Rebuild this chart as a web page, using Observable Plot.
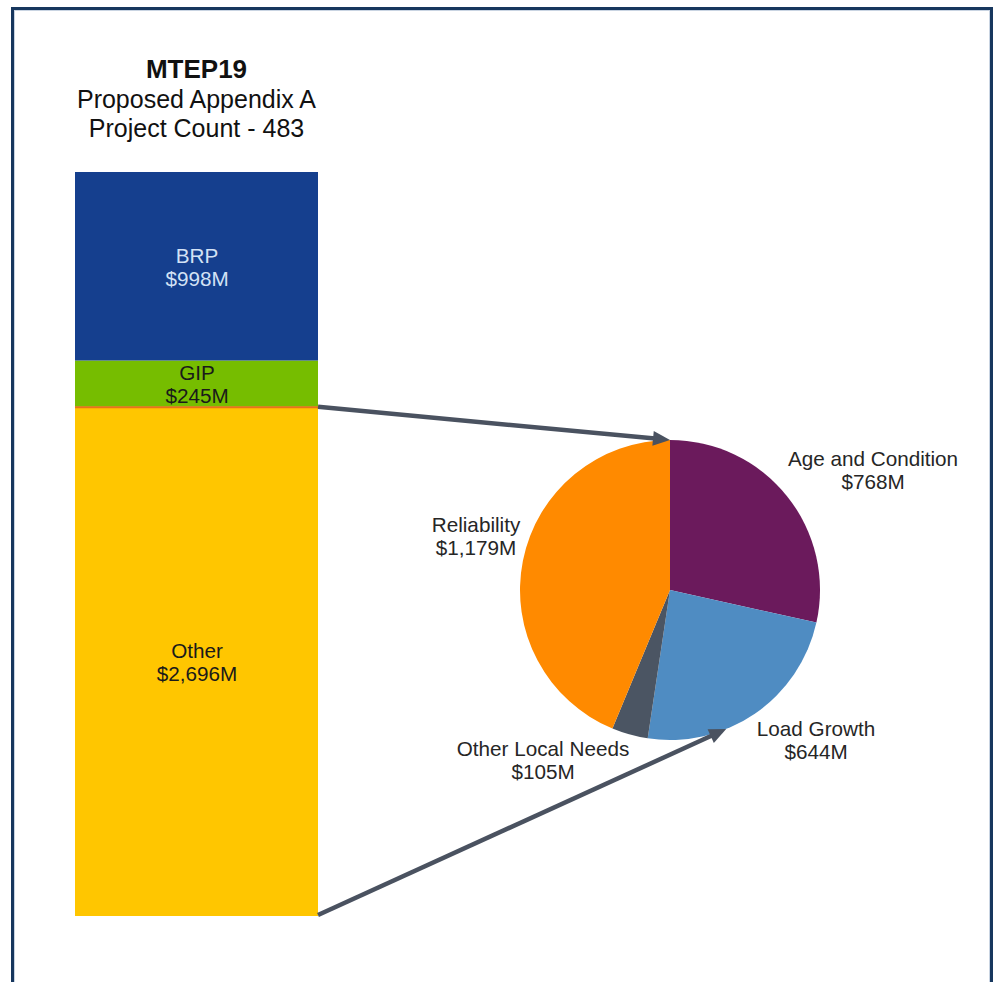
<!DOCTYPE html>
<html><head><meta charset="utf-8">
<script src="https://cdn.jsdelivr.net/npm/d3@7"></script>
<script src="https://cdn.jsdelivr.net/npm/@observablehq/plot@0.6"></script>
<style>
html,body{margin:0;padding:0;background:#fff;width:997px;height:982px;overflow:hidden;font-family:"Liberation Sans",Arial,sans-serif;}
#frame{position:absolute;left:11px;top:7px;width:982px;height:1010px;border:3px solid #17375e;box-sizing:border-box;box-shadow:inset 0 0 0 1px #c9d4e2;z-index:2;pointer-events:none;}
#title{position:absolute;left:75px;width:243px;top:55px;text-align:center;color:#111;}
#title div{font-size:25px;line-height:29.5px;white-space:nowrap;}
#chart{position:absolute;left:0;top:150px;z-index:1;}
</style></head>
<body>
<div id="chart"></div>
<div id="title"></div>
<div id="frame"></div>
<script>
// ---- data ----
const titleLines = ["MTEP19", "Proposed Appendix A", "Project Count - 483"];
const barCategories = ["Other", "GIP", "BRP"];
const barValues = [2696, 245, 998];
const pieCategories = ["Age and Condition", "Load Growth", "Other Local Needs", "Reliability"];
const pieValues = [768, 644, 105, 1179];

// ---- styles / layout ----
const colorMap = {
  "BRP": "#153f8e", "GIP": "#76bd00", "Other": "#ffc600",
  "Age and Condition": "#6b1a5c", "Load Growth": "#4f8cc2",
  "Other Local Needs": "#4b5563", "Reliability": "#ff8a00"
};
const pieLabelOffsets = [[203, -120], [146, 150], [-127, 170], [-194, -54]];
const FONT = "Liberation Sans, Arial, sans-serif";
const LABEL_SIZE = 20.7;

const t = document.getElementById("title");
titleLines.forEach((s, i) => {
  const d = document.createElement("div");
  d.textContent = s;
  if (i === 0) { d.style.fontWeight = "bold"; d.style.fontSize = "26px"; }
  t.appendChild(d);
});

const fmt = d3.format(",");
const group = "Appendix A";
const cum = d3.cumsum(barValues);
const barData = barCategories.map((name, i) => ({name, value: barValues[i], mid: cum[i] - barValues[i] / 2}));
const pieData = pieCategories.map((name, i) => ({name, value: pieValues[i]}));
const total = d3.sum(barValues);

function pieMark(index, scales, values, dimensions) {
  const cx = 670, cy = 440, r = 150;
  const g = d3.create("svg:g");
  const arcs = d3.pie().sort(null).value(d => d.value)(pieData);
  const arc = d3.arc().innerRadius(0).outerRadius(r);
  const pg = g.append("g").attr("transform", `translate(${cx},${cy})`);
  pg.selectAll("path").data(arcs).join("path")
    .attr("d", arc)
    .attr("fill", d => colorMap[d.data.name]);
  const lg = pg.append("g").attr("font-family", FONT).attr("font-size", LABEL_SIZE)
    .attr("fill", "#262626").attr("text-anchor", "middle");
  arcs.forEach((a, i) => {
    const [dx, dy] = pieLabelOffsets[i];
    const tx = lg.append("text").attr("transform", `translate(${dx},${dy})`);
    tx.append("tspan").attr("x", 0).attr("y", -11.5).attr("dy", "0.35em").text(a.data.name);
    tx.append("tspan").attr("x", 0).attr("y", 11.5).attr("dy", "0.35em").text(`$${fmt(a.data.value)}M`);
  });
  // arrows from the "Other" segment of the bar to the pie
  const xr = scales.x(group) + (scales.x.bandwidth ? scales.x.bandwidth() : 243);
  const ang = 158 * Math.PI / 180;
  const arrows = [
    [[xr, scales.y(barValues[0])], [cx, cy - r]],
    [[xr, scales.y(0) - 1], [cx + r * Math.sin(ang), cy - r * Math.cos(ang)]]
  ];
  const col = "#4a5260";
  arrows.forEach(([s, e]) => {
    const vx = e[0] - s[0], vy = e[1] - s[1];
    const L = Math.hypot(vx, vy), ux = vx / L, uy = vy / L;
    const hl = 17, hw = 7.5;
    const bx = e[0] - ux * hl, by = e[1] - uy * hl;
    g.append("line").attr("x1", s[0]).attr("y1", s[1])
      .attr("x2", bx + ux * 2).attr("y2", by + uy * 2)
      .attr("stroke", col).attr("stroke-width", 4.5);
    g.append("path")
      .attr("d", `M${e[0]},${e[1]}L${bx - uy * hw},${by + ux * hw}L${bx + uy * hw},${by - ux * hw}Z`)
      .attr("fill", col);
  });
  return g.node();
}

const chart = Plot.plot({
  width: 997, height: 832,
  marginTop: 22, marginBottom: 66, marginLeft: 0, marginRight: 0,
  style: {fontFamily: FONT, background: "transparent", overflow: "visible"},
  x: {type: "band", domain: [group], range: [75, 318], padding: 0, axis: null},
  y: {domain: [0, total], axis: null},
  color: {domain: Object.keys(colorMap), range: Object.values(colorMap)},
  marks: [
    Plot.barY(barData, Plot.stackY({x: () => group, y: "value", fill: "name", order: barCategories})),
    Plot.tickY(barData.filter(d => d.name === "Other"), {x: () => group, y: "value", stroke: "#e8731a", strokeWidth: 2}),
    Plot.text(barData.filter(d => d.name === "BRP"), {x: () => group, y: "mid", text: d => `${d.name}\n$${fmt(d.value)}M`, fill: "#d3e2f5", fontSize: LABEL_SIZE, lineHeight: 1.12, fontFamily: FONT}),
    Plot.text(barData.filter(d => d.name !== "BRP"), {x: () => group, y: "mid", text: d => `${d.name}\n$${fmt(d.value)}M`, fill: "#1a1a1a", fontSize: LABEL_SIZE, lineHeight: 1.12, fontFamily: FONT}),
    pieMark
  ]
});
document.getElementById("chart").appendChild(chart);
</script>
</body></html>
